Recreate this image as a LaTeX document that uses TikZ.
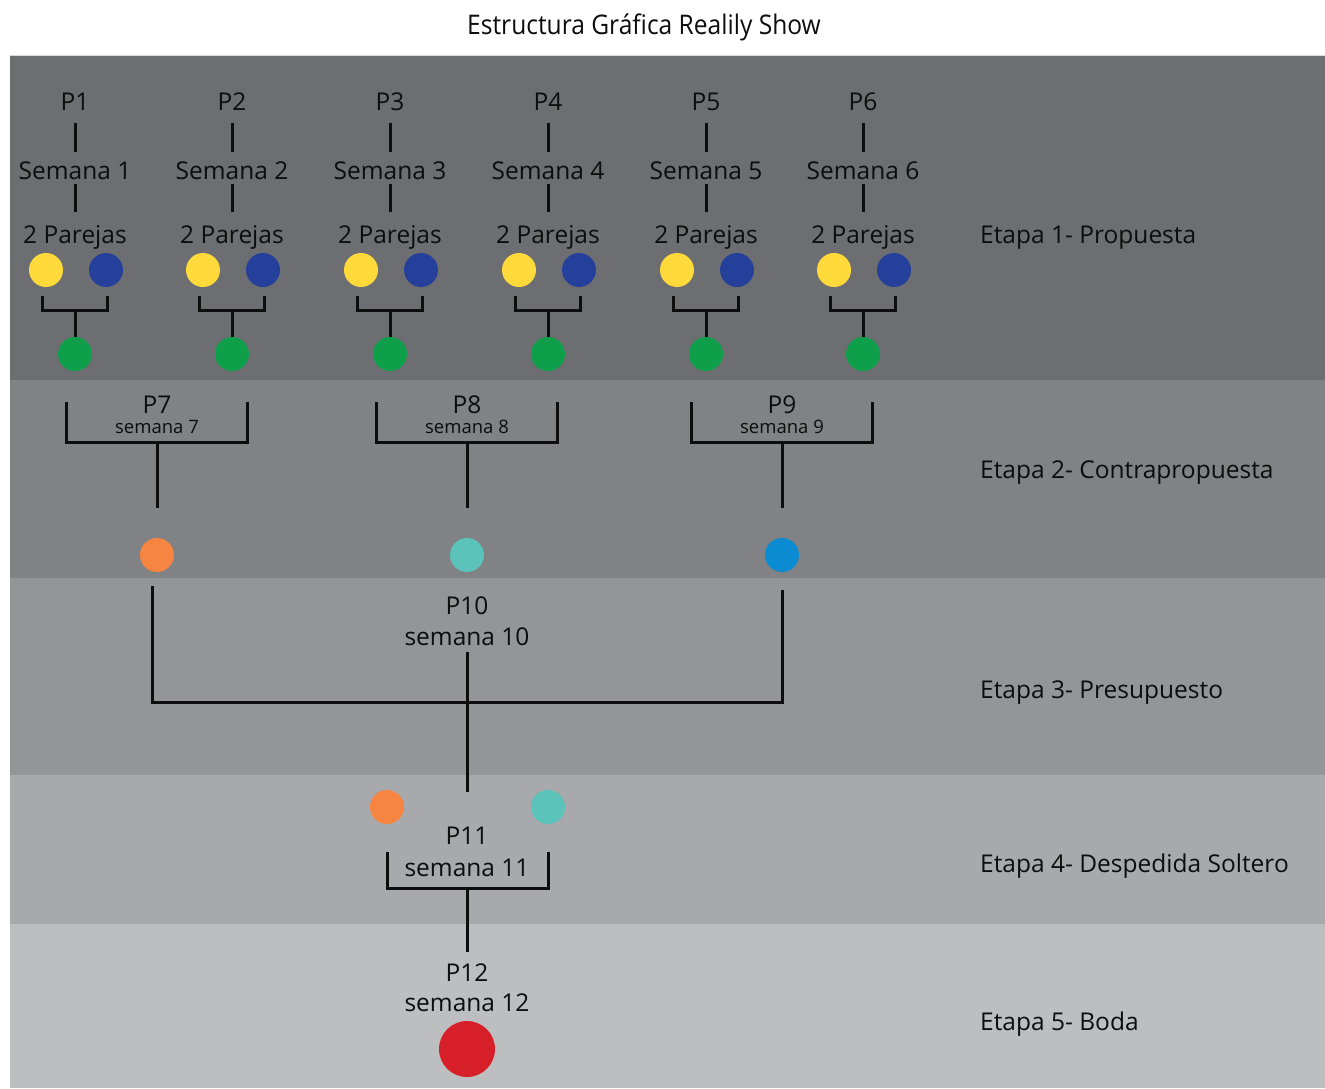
\documentclass[tikz,border=0pt]{standalone}
\usepackage{fontspec}
\setmainfont{Open Sans}
\usetikzlibrary{calc}
\definecolor{bandA}{HTML}{6D6E71}
\definecolor{bandB}{HTML}{808285}
\definecolor{bandC}{HTML}{939598}
\definecolor{bandD}{HTML}{A7A9AC}
\definecolor{bandE}{HTML}{BCBEC0}
\definecolor{cyel}{HTML}{FFDA3A}
\definecolor{cblu}{HTML}{25409A}
\definecolor{cgrn}{HTML}{0F9F4B}
\definecolor{corg}{HTML}{F58540}
\definecolor{cteal}{HTML}{5BC3BA}
\definecolor{csky}{HTML}{0A8BD2}
\definecolor{cred}{HTML}{D71F2A}
\definecolor{ink}{HTML}{0D0D0D}
\begin{document}
\begin{tikzpicture}[x=1pt,y=-1pt,
  lbl/.style={font=\fontsize{24.5}{26}\selectfont, anchor=base, inner sep=0pt, text=ink, text height=16pt, text depth=5pt},
  sml/.style={font=\fontsize{18.5}{20}\selectfont, anchor=base, inner sep=0pt, text=ink, text height=12pt, text depth=4pt},
  etapa/.style={lbl, anchor=base west},
  dot/.style={circle, minimum size=34pt, inner sep=0pt},
  bigdot/.style={circle, minimum size=56pt, inner sep=0pt},
  link/.style={line width=3pt, draw=ink},
]
\useasboundingbox (0,0) rectangle (1325,1088);
\fill[white] (0,0) rectangle (1325,1088);
% bands
\fill[bandA] (10,55) rectangle (1325,380);
\fill[bandB] (10,380) rectangle (1325,578);
\fill[bandC] (10,578) rectangle (1325,775);
\fill[bandD] (10,775) rectangle (1325,924);
\fill[bandE] (10,924) rectangle (1325,1088);
\draw[white!85!black, line width=1pt] (10,55.5) -- (1325,55.5);
% title
\node[anchor=base, inner sep=0pt, text=ink, font=\fontsize{27}{29}\selectfont] (title) at (644,34) {\scalebox{0.91}[1]{Estructura Gráfica Realily Show}};
% stage 1 columns
\foreach \i/\x in {1/75,2/232,3/390,4/548,5/706,6/863}{
  \node[lbl] (p\i) at (\x,110) {P\i};
  \node[lbl] (s\i) at (\x,179) {Semana \i};
  \node[lbl] (r\i) at (\x,243) {2 Parejas};
  \node[dot, fill=cyel] (y\i) at (\x-29,270) {};
  \node[dot, fill=cblu] (b\i) at (\x+31,270) {};
  \node[dot, fill=cgrn] (g\i) at (\x,354) {};
  \coordinate (j\i) at (\x,310);
  \draw[link, shorten <=8pt, shorten >=11pt] (p\i.south) -- (s\i.north);
  \draw[link, shorten >=15pt] (s\i.south) -- (r\i.north);
  \draw[link] ($(y\i.south)+(-4,9)$) |- (j\i) -| ($(b\i.south)+(1,9)$);
  \draw[link] (j\i) -- (g\i.north);
}
% stage 2
\foreach \i/\x/\c in {7/157/corg,8/467/cteal,9/782/csky}{
  \node[lbl] (p\i) at (\x,413) {P\i};
  \node[sml] (w\i) at (\x,433) {semana \i};
  \coordinate (k\i) at (\x,442);
  \node[dot, fill=\c] (d\i) at (\x,555) {};
  \draw[link] ($(k\i)+(-90.5,-40)$) |- (k\i) -| ($(k\i)+(90.5,-40)$);
  \draw[link, shorten >=30pt] (k\i) -- (d\i.north);
}
% stage 3
\node[lbl] (p10) at (467,614) {P10};
\node[lbl] (w10) at (467,645) {semana 10};
\coordinate (m10) at (467,702);
\coordinate (h10) at (467,792);
\draw[link, shorten <=-5pt] ($(d7.south)+(-5,19)$) |- (m10) -| ($(d9.south)+(0,18)$);
\draw[link, shorten <=2pt] (w10.south) -- (h10);
% stage 4
\node[dot, fill=corg] (e11) at (387,807) {};
\node[dot, fill=cteal] (f11) at (548,807) {};
\node[lbl] (p11) at (467,844) {P11};
\node[lbl] (w11) at (467,876) {semana 11};
\coordinate (k11) at (467,888);
\draw[link] (387,852) |- (k11) -| (548,852);
% stage 5
\node[lbl] (p12) at (467,981) {P12};
\node[lbl] (w12) at (467,1011) {semana 12};
\node[bigdot, fill=cred] (red) at (467,1049) {};
\draw[link, shorten >=13pt] (k11) -- (p12.north);
% stage labels
\node[etapa] (et1) at (980,243) {Etapa 1- Propuesta};
\node[etapa] (et2) at (980,478) {Etapa 2- Contrapropuesta};
\node[etapa] (et3) at (980,698) {Etapa 3- Presupuesto};
\node[etapa] (et4) at (980,872) {Etapa 4- Despedida Soltero};
\node[etapa] (et5) at (980,1030) {Etapa 5- Boda};
\end{tikzpicture}
\end{document}
